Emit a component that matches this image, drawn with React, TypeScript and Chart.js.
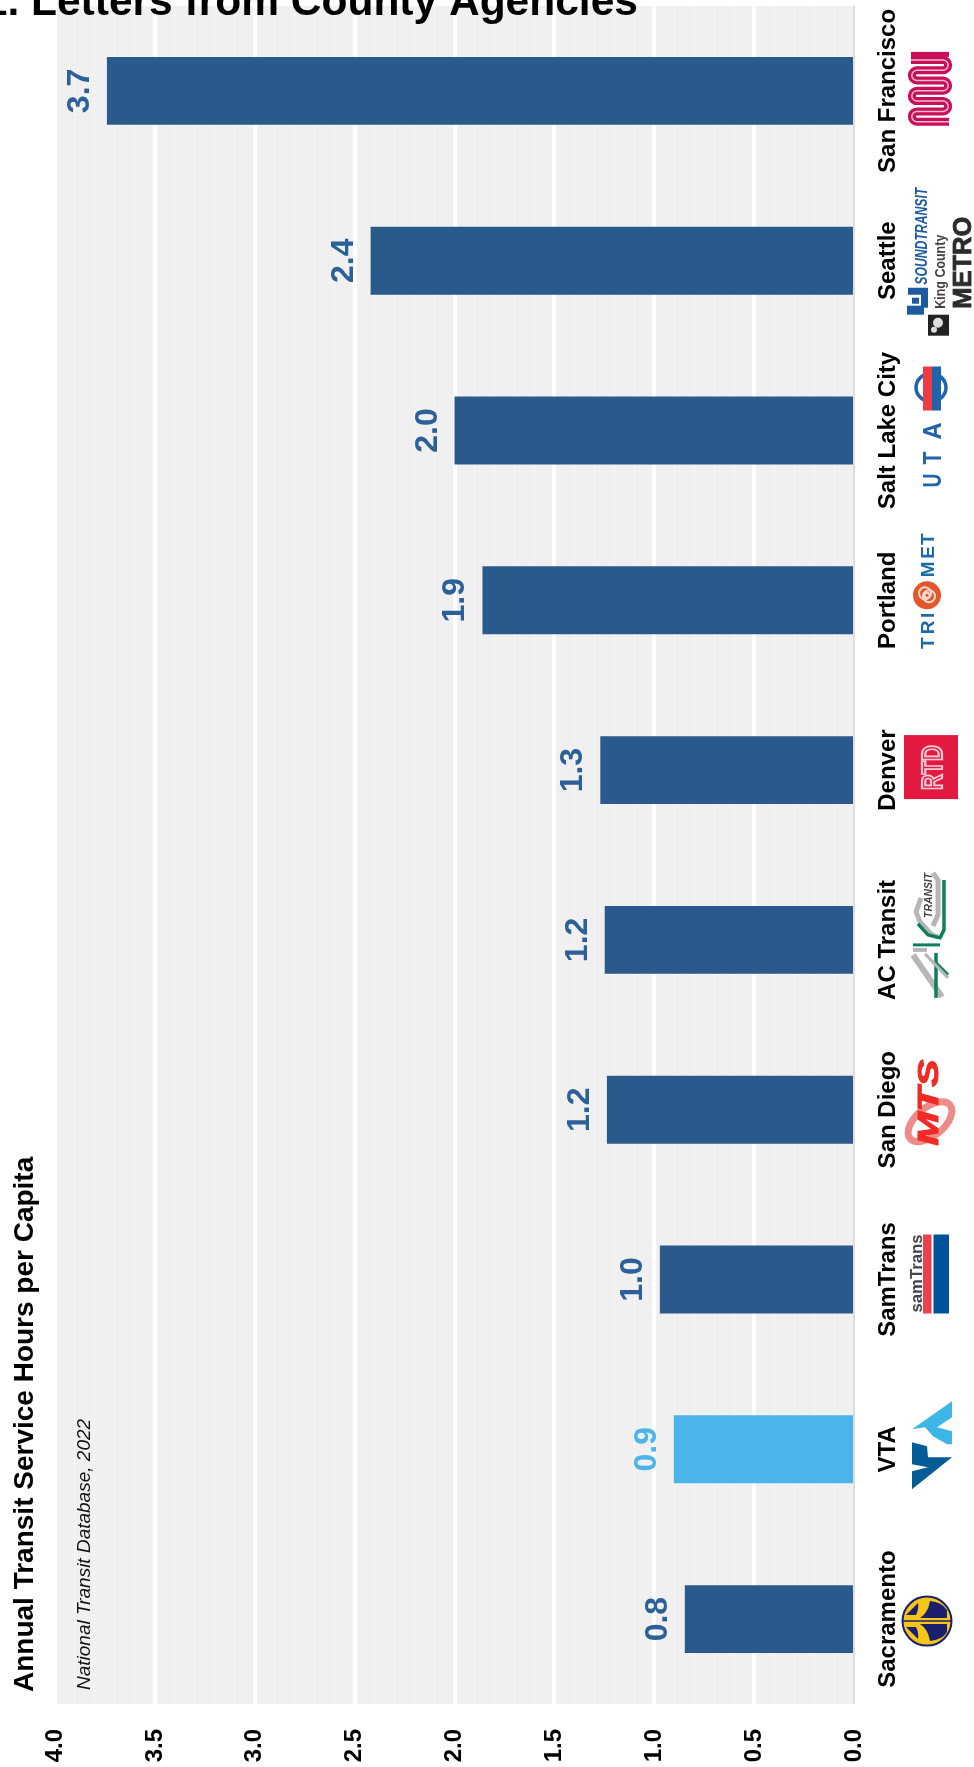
import React, { useEffect, useRef } from "react";
import { Chart, registerables } from "chart.js";

Chart.register(...registerables);

const categories = ["San Francisco", "Seattle", "Salt Lake City", "Portland", "Denver", "AC Transit", "San Diego", "SamTrans", "VTA", "Sacramento"];
const hoursPerCapita = [3.74, 2.42, 2.0, 1.86, 1.27, 1.248, 1.237, 0.972, 0.902, 0.847];
const highlighted = "VTA";

const heading = "1. Letters from County Agencies";
const headingPrefix = "1. ";
const axisTitle = "Annual Transit Service Hours per Capita";
const sourceNote = "National Transit Database, 2022";

const SANS = '"Liberation Sans", Arial, sans-serif';
const BAR = "#2A5A8B";
const BAR_HI = "#4BB4E8";
const LABEL = "#2B6198";
const LABEL_HI = "#4BB4E8";

type Ctx = CanvasRenderingContext2D;

// Runs fn with the canvas turned a quarter-turn, so local +x is up the page and +y to the right.
function turned(ctx: Ctx, x: number, y: number, fn: () => void) {
  ctx.save();
  ctx.translate(x, y);
  ctx.rotate(-Math.PI / 2);
  fn();
  ctx.restore();
}

// Writes text squeezed or stretched to span exactly from u0 to u1 on the turned baseline v.
function fitText(ctx: Ctx, text: string, font: string, u0: number, u1: number, v: number, color: string, heavy = 0) {
  ctx.save();
  ctx.font = font;
  ctx.fillStyle = color;
  ctx.textAlign = "left";
  ctx.textBaseline = "alphabetic";
  const w = ctx.measureText(text).width;
  ctx.translate(u0, v);
  ctx.scale((u1 - u0) / w, 1);
  ctx.fillText(text, 0, 0);
  if (heavy) {
    ctx.strokeStyle = color;
    ctx.lineWidth = heavy;
    ctx.strokeText(text, 0, 0);
  }
  ctx.restore();
}

function poly(ctx: Ctx, pts: number[][], color: string, cy: number) {
  ctx.fillStyle = color;
  ctx.beginPath();
  pts.forEach(([x, y], i) => (i ? ctx.lineTo(x, cy + y) : ctx.moveTo(x, cy + y)));
  ctx.closePath();
  ctx.fill();
}

function strokePath(ctx: Ctx, color: string, width: number, pts: number[][], cy: number) {
  ctx.strokeStyle = color;
  ctx.lineWidth = width;
  ctx.lineJoin = "round";
  ctx.beginPath();
  pts.forEach(([x, y], i) => (i ? ctx.lineTo(x, cy + y) : ctx.moveTo(x, cy + y)));
  ctx.stroke();
}

const logoMuni = (ctx: Ctx, cy: number) => {
  const crimson = "#C8105A";
  const runs = 7;
  const gap = 10.3;
  const top = cy - 31;
  const meander = () => {
    ctx.beginPath();
    ctx.moveTo(911, top);
    for (let k = 0; k < runs - 1; k++) {
      const y0 = top + k * gap;
      const right = k % 2 === 0;
      ctx.lineTo(right ? 943 : 917, y0);
      ctx.arc(right ? 943 : 917, y0 + gap / 2, gap / 2, -Math.PI / 2, Math.PI / 2, !right);
    }
    ctx.lineTo(949, top + (runs - 1) * gap);
  };
  ctx.strokeStyle = crimson;
  ctx.lineWidth = 8;
  meander();
  ctx.stroke();
  ctx.strokeStyle = "#F5B9D0";
  ctx.lineWidth = 1.5;
  meander();
  ctx.stroke();
  ctx.fillStyle = crimson;
  ctx.fillRect(911, cy - 39, 38, 5);
};

const logoSeattle = (ctx: Ctx, cy: number) => {
  const blue = "#1D5AA0";
  turned(ctx, 0, cy, () => {
    fitText(ctx, "SOUNDTRANSIT", 'italic 700 16px ' + SANS, -24, 73, 927, blue);
    fitText(ctx, "King County", "700 15px " + SANS, -48, 26, 945, "#444");
    fitText(ctx, "METRO", "700 26px " + SANS, -48, 44, 971, "#2B2B2B", 0.8);
  });
  poly(ctx, [[908, 27], [928, 27], [928, 47], [921, 47], [921, 34], [908, 34]], blue, cy);
  poly(ctx, [[912, 37], [919, 37], [919, 43], [912, 43]], blue, cy);
  poly(ctx, [[907, 45], [924, 45], [924, 54], [907, 54]], blue, cy);
  ctx.fillStyle = "#222";
  ctx.fillRect(928, cy + 54, 21, 21);
  ctx.fillStyle = "#DDD";
  ctx.beginPath();
  ctx.arc(938, cy + 62, 5, 0, Math.PI * 2);
  ctx.arc(934, cy + 69, 3, 0, Math.PI * 2);
  ctx.fill();
};

const logoUta = (ctx: Ctx, cy: number) => {
  const blue = "#1F64AD";
  ctx.strokeStyle = blue;
  ctx.lineWidth = 3.5;
  ctx.beginPath();
  ctx.ellipse(931, cy - 43, 15, 14, 0, 0, Math.PI * 2);
  ctx.stroke();
  ctx.fillStyle = blue;
  ctx.fillRect(932, cy - 64, 9, 44);
  ctx.fillStyle = "#EE3A43";
  ctx.fillRect(923, cy - 64, 9, 44);
  turned(ctx, 0, cy, () => {
    const f = "700 26px " + SANS;
    fitText(ctx, "U", f, -57, -43, 941, blue);
    fitText(ctx, "T", f, -34, -21, 941, blue);
    fitText(ctx, "A", f, -9, 8, 941, blue);
  });
};

const logoTriMet = (ctx: Ctx, cy: number) => {
  const blue = "#1D6BA5";
  turned(ctx, 0, cy, () => {
    ctx.font = "700 19px " + SANS;
    ctx.fillStyle = blue;
    ctx.textAlign = "center";
    ctx.fillText("T", -43, 934);
    ctx.fillText("R", -27, 934);
    ctx.fillText("I", -15, 934);
    ctx.fillText("M", 31, 934);
    ctx.fillText("E", 48, 934);
    ctx.fillText("T", 61, 934);
  });
  ctx.fillStyle = "#E2572B";
  ctx.beginPath();
  ctx.arc(927, cy - 5, 14, 0, Math.PI * 2);
  ctx.fill();
  ctx.strokeStyle = "#F8D9CC";
  ctx.lineWidth = 2;
  for (const [dx, dy, r] of [[-2, -2, 6], [2, 1, 6], [0, 0, 2.5]]) {
    ctx.beginPath();
    ctx.arc(927 + dx, cy - 5 + dy, r, 0, Math.PI * 2);
    ctx.stroke();
  }
};

const logoRtd = (ctx: Ctx, cy: number) => {
  ctx.fillStyle = "#E21A3F";
  ctx.fillRect(904, cy - 35, 54, 64);
  turned(ctx, 0, cy, () => {
    ctx.save();
    ctx.font = "700 30px " + SANS;
    ctx.strokeStyle = "#F8C9D2";
    ctx.lineWidth = 2.2;
    ctx.textAlign = "left";
    const w = ctx.measureText("RTD").width;
    ctx.translate(-20, 942);
    ctx.scale(45 / w, 0.98);
    ctx.strokeText("RTD", 0, 0);
    ctx.restore();
  });
};

const logoAc = (ctx: Ctx, cy: number) => {
  const gray = "#B4B6B8";
  const green = "#0E7F5C";
  strokePath(ctx, gray, 5, [[921, -42], [916, -28], [920, -18], [932, -5], [938, -3]], cy);
  strokePath(ctx, gray, 5, [[933, -67], [938, -60], [938, -25], [933, -14]], cy);
  strokePath(ctx, green, 3.5, [[944, -60], [944, -10], [940, -2], [928, -5], [918, -16]], cy);
  strokePath(ctx, green, 3, [[913, 5], [940, 5]], cy);
  strokePath(ctx, gray, 4, [[913, 10], [927, 10]], cy);
  strokePath(ctx, gray, 6, [[913, 15], [942, 57]], cy);
  strokePath(ctx, green, 3.5, [[936, 13], [936, 58]], cy);
  strokePath(ctx, green, 3, [[936, 23], [948, 35]], cy);
  strokePath(ctx, gray, 3, [[925, 14], [948, 38]], cy);
  turned(ctx, 0, cy, () => {
    fitText(ctx, "TRANSIT", "italic 700 10px " + SANS, 22, 67, 932, "#444");
  });
};

const logoMts = (ctx: Ctx, cy: number) => {
  ctx.strokeStyle = "#EE8A88";
  ctx.lineWidth = 7;
  ctx.beginPath();
  ctx.ellipse(930, cy + 12, 26, 14, -0.7, 0, Math.PI * 2);
  ctx.stroke();
  turned(ctx, 0, cy, () => {
    fitText(ctx, "MTS", "italic 700 30px " + SANS, -36, 50, 938, "#F02A25", 1);
  });
};

const logoSamTrans = (ctx: Ctx, cy: number) => {
  ctx.fillStyle = "#EE3F4C";
  ctx.fillRect(923, cy - 45, 8.5, 79);
  ctx.fillStyle = "#00529B";
  ctx.fillRect(933.5, cy - 45, 15.5, 79);
  turned(ctx, 0, cy, () => {
    fitText(ctx, "samTrans", "700 17px " + SANS, -33, 45, 922, "#444");
  });
};

const logoVta = (ctx: Ctx, cy: number) => {
  poly(ctx, [[952, -48], [912, -20], [925, -22], [933, -13], [947, -5], [952, -5], [952, -18], [937, -22], [952, -32]], "#3DB5E6", cy);
  poly(ctx, [[912, -7], [927, -3], [928, 8], [952, 8], [912, 40], [912, 22], [928, 18], [912, 15]], "#045C97", cy);
};

const logoSacramento = (ctx: Ctx, cy: number) => {
  const c = cy + 2;
  const navy = "#1A1F6E";
  ctx.fillStyle = "#F5C518";
  ctx.strokeStyle = navy;
  ctx.lineWidth = 2;
  ctx.beginPath();
  ctx.arc(927, c, 24.5, 0, Math.PI * 2);
  ctx.fill();
  ctx.stroke();
  ctx.fillStyle = navy;
  for (const s of [-1, 1]) {
    ctx.beginPath();
    ctx.moveTo(920, c + s * 3);
    ctx.quadraticCurveTo(928, c + s * 8, 930, c + s * 20);
    ctx.quadraticCurveTo(942, c + s * 19, 947, c + s * 11);
    ctx.lineTo(947, c + s * 3);
    ctx.closePath();
    ctx.fill();
    ctx.beginPath();
    ctx.moveTo(906, c + s * 6);
    ctx.lineTo(916, c + s * 6);
    ctx.quadraticCurveTo(919, c + s * 12, 918, c + s * 18);
    ctx.closePath();
    ctx.fill();
  }
  strokePath(ctx, navy, 1.5, [[902, 0], [952, 0]], c);
};

const logos = [logoMuni, logoSeattle, logoUta, logoTriMet, logoRtd, logoAc, logoMts, logoSamTrans, logoVta, logoSacramento];

const isHalfStep = (v: number) => Math.abs(v * 2 - Math.round(v * 2)) < 1e-6;

// Panel fill goes behind the grid; all rotated labels and logos go on top of the bars.
const decorations = {
  id: "decorations",
  beforeDraw(chart: Chart) {
    const { ctx, chartArea: a } = chart;
    ctx.save();
    ctx.fillStyle = "#F0F0F0";
    ctx.fillRect(a.left, a.top, a.right - a.left, a.bottom - a.top);
    ctx.restore();
  },
  afterDraw(chart: Chart) {
    const { ctx } = chart;
    const yScale = chart.scales.y;
    ctx.save();
    ctx.textBaseline = "alphabetic";

    const bars = chart.getDatasetMeta(0).data;
    categories.forEach((name, i) => {
      const cy = yScale.getPixelForValue(i);
      turned(ctx, 895, cy, () => {
        ctx.font = "700 24px " + SANS;
        ctx.fillStyle = "#000";
        ctx.textAlign = "center";
        ctx.fillText(name, 0, 0);
      });
      turned(ctx, bars[i].x - 18, cy, () => {
        ctx.font = "700 32px " + SANS;
        ctx.fillStyle = name === highlighted ? LABEL_HI : LABEL;
        ctx.textAlign = "center";
        ctx.fillText(hoursPerCapita[i].toFixed(1), 0, 0);
      });
      ctx.save();
      logos[i](ctx, cy);
      ctx.restore();
    });

    turned(ctx, 33, 1692, () => {
      ctx.font = "700 28px " + SANS;
      ctx.fillStyle = "#000";
      ctx.textAlign = "left";
      ctx.fillText(axisTitle, 0, 0);
    });
    turned(ctx, 90, 1690, () => {
      ctx.font = "italic 400 19px " + SANS;
      ctx.fillStyle = "#111";
      ctx.textAlign = "left";
      ctx.fillText(sourceNote, 0, 0);
    });

    ctx.font = "700 42.5px " + SANS;
    ctx.fillStyle = "#000";
    ctx.textAlign = "left";
    ctx.fillText(heading, 31 - ctx.measureText(headingPrefix).width, 15);
    ctx.restore();
  },
};

export default function App() {
  const canvasRef = useRef<HTMLCanvasElement>(null);

  useEffect(() => {
    document.body.style.margin = "0";
    const chart = new Chart(canvasRef.current!, {
      type: "bar",
      data: {
        labels: categories,
        datasets: [
          {
            data: hoursPerCapita,
            backgroundColor: categories.map((c) => (c === highlighted ? BAR_HI : BAR)),
            barPercentage: 0.4,
            categoryPercentage: 1,
          },
        ],
      },
      plugins: [decorations],
      options: {
        indexAxis: "y",
        responsive: false,
        animation: false,
        layout: { padding: { left: 55, top: 6, right: 0, bottom: 0 } },
        plugins: { legend: { display: false }, title: { display: false }, tooltip: { enabled: false } },
        scales: {
          x: {
            type: "linear",
            reverse: true,
            min: 0,
            max: 4,
            position: "bottom",
            afterFit: (s: any) => {
              s.height = 63;
            },
            grid: {
              drawTicks: false,
              color: (c: any) => (c.tick.value === 0 ? "#DEDEDE" : isHalfStep(c.tick.value) ? "#FFFFFF" : "rgba(255,255,255,0.85)"),
              lineWidth: (c: any) => (c.tick.value === 0 ? 2 : isHalfStep(c.tick.value) ? 4 : 1),
            },
            border: {
              display: false,
              dash: (c: any) => (isHalfStep(c.tick.value) ? [] : [2, 2]),
            },
            ticks: {
              stepSize: 0.1,
              autoSkip: false,
              minRotation: 90,
              maxRotation: 90,
              padding: 25,
              color: "#000",
              font: { family: "Liberation Sans", size: 24, weight: "bold" },
              callback: (v: any) => (isHalfStep(Number(v)) ? Number(v).toFixed(1) : ""),
            },
          },
          y: {
            type: "category",
            position: "right",
            afterFit: (s: any) => {
              s.width = 120;
            },
            grid: { display: false },
            border: { display: false },
            ticks: { display: false },
          },
        },
      },
    } as any);
    return () => chart.destroy();
  }, []);

  return <canvas ref={canvasRef} width={974} height={1767} style={{ display: "block" }} />;
}
